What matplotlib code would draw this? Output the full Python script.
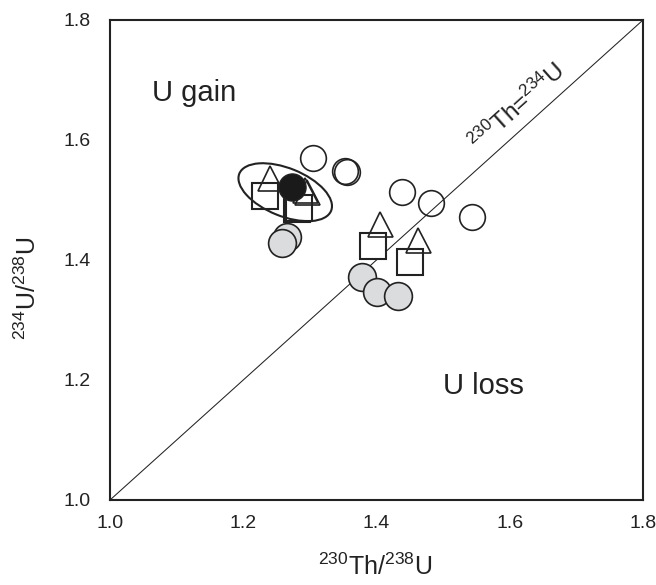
import matplotlib
matplotlib.use("Agg")
import matplotlib.pyplot as plt
import matplotlib.transforms as mtransforms
from matplotlib.patches import Ellipse

plt.rcParams['font.family'] = ['Liberation Sans', 'DejaVu Sans']
plt.rcParams['mathtext.fontset'] = 'custom'
plt.rcParams['mathtext.rm'] = 'Liberation Sans'
plt.rcParams['mathtext.it'] = 'Liberation Sans'

# 230Th/238U (x) と 234U/238U (y)
open_circle_x = [1.305, 1.356, 1.353, 1.438, 1.482, 1.543]
open_circle_y = [1.570, 1.547, 1.549, 1.513, 1.495, 1.472]

gray_circle_x = [1.266, 1.258, 1.378, 1.401, 1.432]
gray_circle_y = [1.438, 1.428, 1.372, 1.347, 1.340]

triangle_x = [1.240, 1.292, 1.295, 1.406, 1.462]
triangle_y = [1.536, 1.516, 1.514, 1.460, 1.433]

square_x = [1.232, 1.280, 1.284, 1.395, 1.450]
square_y = [1.507, 1.485, 1.487, 1.424, 1.397]

black_x = [1.273]
black_y = [1.522]

ellipse_center = (1.263, 1.513)

ticks = [1.0, 1.2, 1.4, 1.6, 1.8]
tick_labels = ["1.0", "1.2", "1.4", "1.6", "1.8"]

ink = "#222222"

fig = plt.figure(figsize=(6.56, 5.85), dpi=100)
ax = fig.add_axes([110 / 656, 1 - 500 / 585, 533 / 656, 480 / 585])

# 1:1 line
ax.plot([1.0, 1.8], [1.0, 1.8], color=ink, lw=0.75, zorder=1)

ax.plot(gray_circle_x, gray_circle_y, "o", ms=20, mfc="#dbdcde", mec=ink, mew=1.2, zorder=2)
ax.plot(square_x, square_y, "s", ms=18.5, mfc="white", mec=ink, mew=1.5, zorder=3)
ax.plot(triangle_x, triangle_y, "^", ms=18, mfc="none", mec=ink, mew=1.2, zorder=4)
ax.plot(open_circle_x, open_circle_y, "o", ms=18.5, mfc="none", mec=ink, mew=1.2, zorder=4)
ax.plot(black_x, black_y, "o", ms=19.5, mfc="#1a1a1a", mec=ink, mew=1.0, zorder=5)

# 楕円 (サイズはインチ単位)
trans = fig.dpi_scale_trans + mtransforms.ScaledTranslation(
    ellipse_center[0], ellipse_center[1], ax.transData)
ell = Ellipse((0, 0), 0.99, 0.48, angle=-22, transform=trans,
              fill=False, ec=ink, lw=1.5, zorder=6)
ax.add_patch(ell)

ax.text(1.063, 1.678, "U gain", fontsize=21, color=ink, va="center", ha="left")
ax.text(1.50, 1.19, "U loss", fontsize=21, color=ink, va="center", ha="left")
ax.text(1.611, 1.655, r"$^{230}$Th=$^{234}$U", fontsize=17.5, color=ink,
        rotation=42, rotation_mode="anchor", ha="center", va="center")

ax.set_xlim(1.0, 1.8)
ax.set_ylim(1.0, 1.8)
ax.set_xticks(ticks)
ax.set_xticklabels(tick_labels)
ax.set_yticks(ticks)
ax.set_yticklabels(tick_labels)
ax.tick_params(length=0, labelsize=14, colors=ink)
ax.tick_params(axis="x", pad=11)
ax.tick_params(axis="y", pad=14)
for s in ax.spines.values():
    s.set_color(ink)
    s.set_linewidth(1.5)

ax.set_xlabel(r"$^{230}$Th/$^{238}$U", fontsize=18, color=ink)
ax.set_ylabel(r"$^{234}$U/$^{238}$U", fontsize=18, color=ink)
ax.xaxis.set_label_coords(0.497, -0.112)
ax.yaxis.set_label_coords(-0.13, 0.44)

fig.savefig("out.png", dpi=100)
